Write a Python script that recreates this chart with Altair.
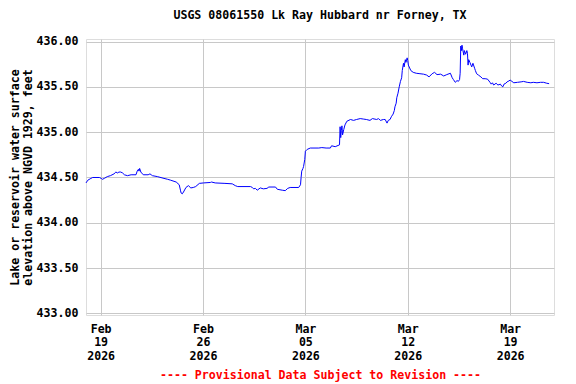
import altair as alt
import pandas as pd

TITLE = "USGS 08061550 Lk Ray Hubbard nr Forney, TX"
Y_TITLE = ["Lake or reservoir water surface", "elevation above NGVD 1929, feet"]
FOOTER = "---- Provisional Data Subject to Revision ----"

times = [
    "2026-02-18T00:00", "2026-02-18T03:00", "2026-02-18T08:00", "2026-02-18T11:00", "2026-02-18T22:00",
    "2026-02-19T01:00", "2026-02-19T03:00", "2026-02-19T06:00", "2026-02-19T11:00", "2026-02-19T16:00",
    "2026-02-19T22:00", "2026-02-20T01:00", "2026-02-20T04:00", "2026-02-20T06:00", "2026-02-20T09:00",
    "2026-02-20T12:00", "2026-02-20T15:00", "2026-02-20T20:00", "2026-02-21T02:00", "2026-02-21T10:00",
    "2026-02-21T12:00", "2026-02-21T14:00", "2026-02-21T15:00", "2026-02-21T16:00", "2026-02-21T18:00",
    "2026-02-21T22:00", "2026-02-22T06:00", "2026-02-22T09:00", "2026-02-22T11:00", "2026-02-22T13:00",
    "2026-02-22T21:00", "2026-02-23T08:00", "2026-02-23T14:00", "2026-02-23T19:00", "2026-02-24T04:00",
    "2026-02-24T09:00", "2026-02-24T11:00", "2026-02-24T12:00", "2026-02-24T14:00", "2026-02-24T16:00",
    "2026-02-24T20:00", "2026-02-25T00:00", "2026-02-25T04:00", "2026-02-25T08:00", "2026-02-25T12:00",
    "2026-02-25T18:00", "2026-02-26T01:00", "2026-02-26T12:00", "2026-02-26T14:00", "2026-02-26T20:00",
    "2026-02-27T12:00", "2026-02-28T00:00", "2026-02-28T05:00", "2026-02-28T09:00", "2026-03-01T06:00",
    "2026-03-01T09:00", "2026-03-01T11:00", "2026-03-01T14:00", "2026-03-01T17:00", "2026-03-01T22:00",
    "2026-03-02T03:00", "2026-03-02T09:00", "2026-03-02T12:00", "2026-03-02T23:00", "2026-03-03T02:00",
    "2026-03-03T10:00", "2026-03-03T15:00", "2026-03-03T19:00", "2026-03-03T23:00", "2026-03-04T13:00",
    "2026-03-04T16:00", "2026-03-04T17:00", "2026-03-04T18:00", "2026-03-04T20:00", "2026-03-04T21:00",
    "2026-03-04T23:00", "2026-03-05T00:00", "2026-03-05T03:00", "2026-03-05T08:00", "2026-03-05T22:00",
    "2026-03-06T03:00", "2026-03-06T10:00", "2026-03-06T17:00", "2026-03-06T19:00", "2026-03-07T01:00",
    "2026-03-07T08:00", "2026-03-07T09:00", "2026-03-07T10:00", "2026-03-07T11:00", "2026-03-07T12:00",
    "2026-03-07T13:00", "2026-03-07T15:00", "2026-03-07T17:00", "2026-03-07T20:00", "2026-03-08T02:00",
    "2026-03-08T07:00", "2026-03-08T12:00", "2026-03-08T18:00", "2026-03-08T23:00", "2026-03-09T04:00",
    "2026-03-09T10:00", "2026-03-09T14:00", "2026-03-09T21:00", "2026-03-10T00:00", "2026-03-10T03:00",
    "2026-03-10T08:00", "2026-03-10T11:00", "2026-03-10T14:00", "2026-03-10T16:00", "2026-03-10T19:00",
    "2026-03-10T21:00", "2026-03-11T00:00", "2026-03-11T02:00", "2026-03-11T03:00", "2026-03-11T05:00",
    "2026-03-11T06:00", "2026-03-11T08:00", "2026-03-11T10:00", "2026-03-11T12:00", "2026-03-11T14:00",
    "2026-03-11T15:00", "2026-03-11T17:00", "2026-03-11T18:00", "2026-03-11T20:00", "2026-03-11T21:00",
    "2026-03-11T23:00", "2026-03-12T00:00", "2026-03-12T01:00", "2026-03-12T05:00", "2026-03-12T09:00",
    "2026-03-12T14:00", "2026-03-12T20:00", "2026-03-13T02:00", "2026-03-13T07:00", "2026-03-13T11:00",
    "2026-03-13T16:00", "2026-03-13T20:00", "2026-03-14T00:00", "2026-03-14T06:00", "2026-03-14T11:00",
    "2026-03-14T16:00", "2026-03-14T22:00", "2026-03-15T01:00", "2026-03-15T03:00", "2026-03-15T06:00",
    "2026-03-15T09:00", "2026-03-15T11:00", "2026-03-15T13:00", "2026-03-15T14:00", "2026-03-15T15:00",
    "2026-03-15T16:00", "2026-03-15T17:00", "2026-03-15T18:00", "2026-03-15T20:00", "2026-03-15T21:00",
    "2026-03-15T23:00", "2026-03-16T01:00", "2026-03-16T02:00", "2026-03-16T03:00", "2026-03-16T04:00",
    "2026-03-16T06:00", "2026-03-16T09:00", "2026-03-16T11:00", "2026-03-16T14:00", "2026-03-16T15:00",
    "2026-03-16T17:00", "2026-03-16T20:00", "2026-03-17T00:00", "2026-03-17T03:00", "2026-03-17T07:00",
    "2026-03-17T11:00", "2026-03-17T15:00", "2026-03-17T17:00", "2026-03-17T19:00", "2026-03-17T21:00",
    "2026-03-18T01:00", "2026-03-18T04:00", "2026-03-18T08:00", "2026-03-18T10:00", "2026-03-18T12:00",
    "2026-03-18T14:00", "2026-03-18T17:00", "2026-03-18T19:00", "2026-03-18T22:00", "2026-03-19T00:00",
    "2026-03-19T03:00", "2026-03-19T06:00", "2026-03-19T12:00", "2026-03-19T18:00", "2026-03-19T22:00",
    "2026-03-20T04:00", "2026-03-20T10:00", "2026-03-20T14:00", "2026-03-20T20:00", "2026-03-21T02:00",
    "2026-03-21T07:00", "2026-03-21T12:00", "2026-03-21T16:00",
]

elevation = [
    434.44, 434.47, 434.49, 434.50, 434.50,
    434.49, 434.48, 434.49, 434.51, 434.52,
    434.54, 434.56, 434.55, 434.56, 434.56,
    434.55, 434.53, 434.52, 434.53, 434.53,
    434.57, 434.59, 434.57, 434.60, 434.56,
    434.53, 434.53, 434.54, 434.53, 434.52,
    434.51, 434.49, 434.48, 434.47, 434.45,
    434.42, 434.36, 434.33, 434.32, 434.34,
    434.39, 434.41, 434.385, 434.39, 434.40,
    434.435, 434.44, 434.445, 434.45, 434.44,
    434.435, 434.43, 434.41, 434.40, 434.40,
    434.39, 434.375, 434.38, 434.36, 434.385,
    434.375, 434.38, 434.395, 434.395, 434.37,
    434.36, 434.355, 434.38, 434.39, 434.39,
    434.42, 434.50, 434.57, 434.60, 434.62,
    434.70, 434.79, 434.81, 434.825, 434.825,
    434.83, 434.825, 434.825, 434.85, 434.84,
    434.86, 435.06, 434.94, 435.02, 435.07,
    434.97, 435.03, 435.08, 435.12, 435.14,
    435.13, 435.14, 435.15, 435.145, 435.14,
    435.13, 435.15, 435.14, 435.15, 435.13,
    435.14, 435.14, 435.10, 435.13, 435.14,
    435.17, 435.20, 435.24, 435.28, 435.32,
    435.38, 435.43, 435.50, 435.56, 435.60,
    435.68, 435.76, 435.72, 435.80, 435.77,
    435.82, 435.79, 435.74, 435.68, 435.66,
    435.65, 435.645, 435.64, 435.63, 435.61,
    435.645, 435.66, 435.635, 435.64, 435.62,
    435.635, 435.65, 435.60, 435.58, 435.55,
    435.57, 435.56, 435.58, 435.65, 435.95,
    435.90, 435.96, 435.92, 435.85, 435.90,
    435.86, 435.90, 435.87, 435.74, 435.80,
    435.77, 435.72, 435.76, 435.70, 435.68,
    435.645, 435.63, 435.61, 435.59, 435.59,
    435.585, 435.55, 435.53, 435.545, 435.52,
    435.54, 435.52, 435.53, 435.51, 435.50,
    435.53, 435.54, 435.555, 435.565, 435.575,
    435.56, 435.545, 435.55, 435.555, 435.56,
    435.55, 435.545, 435.55, 435.545, 435.55,
    435.55, 435.54, 435.535,
]

y_ticks = [433.0, 433.5, 434.0, 434.5, 435.0, 435.5, 436.0]

df = pd.DataFrame({"time": times, "elevation": elevation})

FONT = "DejaVu Sans Mono"
FS = 11.6

x_vals = [
    alt.DateTime(year=2026, month=2, date=19),
    alt.DateTime(year=2026, month=2, date=26),
    alt.DateTime(year=2026, month=3, date=5),
    alt.DateTime(year=2026, month=3, date=12),
    alt.DateTime(year=2026, month=3, date=19),
]

chart = (
    alt.Chart(df)
    .mark_line(color="#0000ff", strokeWidth=1)
    .encode(
        x=alt.X(
            "time:T",
            scale=alt.Scale(
                domain=[
                    alt.DateTime(year=2026, month=2, date=18),
                    alt.DateTime(year=2026, month=3, date=22),
                ],
                nice=False,
            ),
            axis=alt.Axis(
                values=x_vals,
                labelExpr="[timeFormat(datum.value, '%b'), timeFormat(datum.value, '%d'), timeFormat(datum.value, '%Y')]",
                labelLineHeight=13.5,
                labelBaseline="top",
                labelPadding=8,
                labelFont=FONT,
                labelFontSize=FS,
                labelFontWeight="bold",
                labelColor="black",
                labelAngle=0,
                ticks=False,
                domain=False,
                grid=True,
                gridColor="#c8c8c8",
                gridWidth=1,
                title=FOOTER,
                titleColor="#ff0000",
                titleFont=FONT,
                titleFontSize=FS,
                titleFontWeight="bold",
                titleBaseline="middle",
                titleY=60,
            ),
        ),
        y=alt.Y(
            "elevation:Q",
            scale=alt.Scale(domain=[432.983, 436.028], nice=False, zero=False),
            axis=alt.Axis(
                values=y_ticks,
                format=".2f",
                labelFont=FONT,
                labelFontSize=FS,
                labelFontWeight="bold",
                labelColor="black",
                labelPadding=8,
                ticks=False,
                domain=False,
                grid=True,
                gridColor="#c8c8c8",
                gridWidth=1,
                title=Y_TITLE,
                titleFont=FONT,
                titleFontSize=FS,
                titleFontWeight="bold",
                titleColor="black",
                titleLineHeight=13,
                titleBaseline="middle",
                titleX=-71,
            ),
        ),
    )
    .properties(
        width=468,
        height=276,
        autosize=alt.AutoSizeParams(type="none"),
        padding={"left": 78, "top": 31, "right": 14, "bottom": 69},
        title=alt.TitleParams(
            TITLE,
            font=FONT,
            fontSize=FS,
            fontWeight="bold",
            color="black",
            anchor="middle",
            offset=14,
        ),
    )
    .configure_view(stroke="black", strokeWidth=1.5)
    .configure(background="white")
)

chart.save("out.html", embed_options={"renderer": "svg", "actions": False})
